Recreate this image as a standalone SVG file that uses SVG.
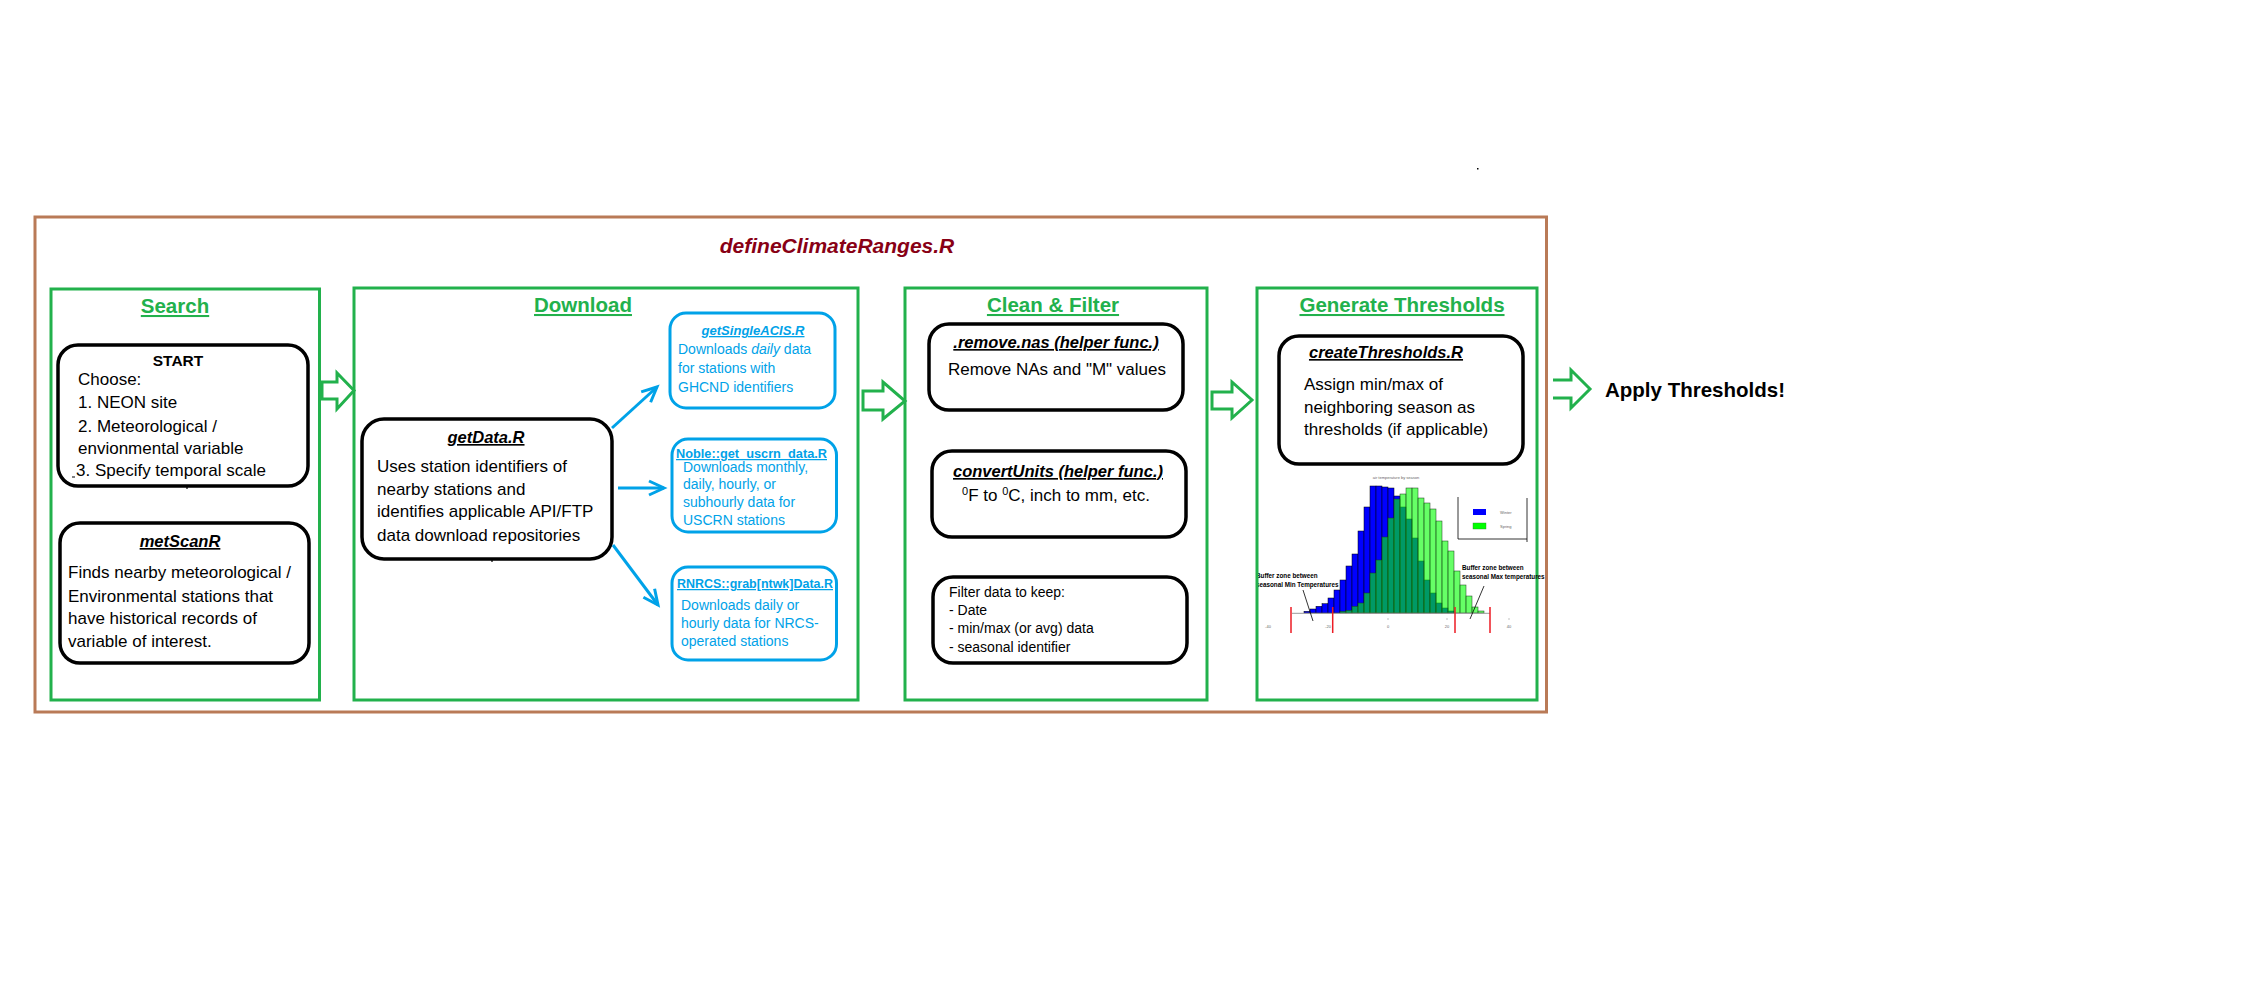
<svg xmlns="http://www.w3.org/2000/svg" width="2246" height="992" viewBox="0 0 2246 992">
<style>
text{font-family:"Liberation Sans",Arial,sans-serif;}
.sec{fill:#fff;stroke:#22B14C;stroke-width:3;}
.sect{font-size:20.5px;font-weight:bold;fill:#22B14C;text-anchor:middle;text-decoration:underline;}
.bx{fill:#fff;stroke:#000;stroke-width:3.5;}
.bbx{fill:#fff;stroke:#00A2E8;stroke-width:3;}
.bt{font-size:16.5px;font-weight:bold;font-style:italic;text-anchor:middle;text-decoration:underline;fill:#000;}
.body{font-size:17px;fill:#000;}
.small{font-size:14px;fill:#000;}
.blt{font-size:13px;font-weight:bold;font-style:italic;fill:#00A2E8;text-decoration:underline;}
.blt2{font-size:12.5px;font-weight:bold;fill:#00A2E8;text-decoration:underline;}
.blb{font-size:14px;fill:#00A2E8;}
.hollow{fill:#fff;stroke:#22B14C;stroke-width:3;}
.conn{stroke:#00A2E8;stroke-width:3;fill:none;}
.blue{fill:#0000FF;stroke:#000;stroke-width:0.5;}
.grn{fill:#00FF00;fill-opacity:0.6;stroke:#1a3a1a;stroke-width:0.5;}
.tiny{font-size:4px;fill:#666;}
.ann{font-size:6.3px;font-weight:bold;fill:#000;}
</style>
<defs>
<marker id="ah" markerUnits="userSpaceOnUse" markerWidth="20" markerHeight="18" refX="16" refY="8" orient="auto" viewBox="0 0 20 16">
<path d="M1,1 L16,8 L1,15" fill="none" stroke="#00A2E8" stroke-width="3"/>
</marker>
</defs>

<g id="outer">
<rect x="35" y="217" width="1511.5" height="495" fill="none" stroke="#B97A57" stroke-width="3"/>
<text x="837" y="253" text-anchor="middle" font-size="21" font-weight="bold" font-style="italic" fill="#880015">defineClimateRanges.R</text>
<rect x="1477" y="168" width="1.5" height="1.5" fill="#000"/>
</g>

<g id="search">
<rect class="sec" x="51" y="289" width="268.5" height="411"/>
<text class="sect" x="175" y="313">Search</text>
</g>

<g id="start">
<rect class="bx" x="58" y="345" width="250" height="141" rx="20"/>
<text x="178" y="366" text-anchor="middle" font-size="15.5" font-weight="bold">START</text>
<text class="body" x="78" y="385">Choose:</text>
<text class="body" x="78" y="408">1. NEON site</text>
<text class="body" x="78" y="432">2. Meteorological /</text>
<text class="body" x="78" y="454">envionmental variable</text>
<text class="body" x="76" y="476">3. Specify temporal scale</text>
<path d="M72,477 h3 M187,486 v3" stroke="#000" stroke-width="1.2"/>
</g>

<g id="metscanr">
<rect class="bx" x="60" y="523" width="249" height="140" rx="20"/>
<text class="bt" x="180" y="547">metScanR</text>
<text class="body" x="68" y="578">Finds nearby meteorological /</text>
<text class="body" x="68" y="602">Environmental stations that</text>
<text class="body" x="68" y="624">have historical records of</text>
<text class="body" x="68" y="647">variable of interest.</text>
</g>

<g id="download">
<rect class="sec" x="354" y="288" width="504" height="412"/>
<text class="sect" x="583" y="312">Download</text>
</g>

<g id="getdata">
<rect class="bx" x="362" y="419" width="250" height="140" rx="22"/>
<text class="bt" x="486" y="443" font-size="17.4">getData.R</text>
<text class="body" x="377" y="472">Uses station identifiers of</text>
<text class="body" x="377" y="495">nearby stations and</text>
<text class="body" x="377" y="517">identifies applicable API/FTP</text>
<text class="body" x="377" y="541">data download repositories</text>
<path d="M492,559 v3" stroke="#000" stroke-width="1.2"/>
</g>

<g id="getsingleacis">
<rect class="bbx" x="670" y="313" width="165" height="95" rx="16"/>
<text class="blt" x="753" y="335" text-anchor="middle" textLength="103" lengthAdjust="spacingAndGlyphs">getSingleACIS.R</text>
<text class="blb" x="678" y="354" font-size="14.5">Downloads <tspan font-style="italic">daily</tspan> data</text>
<text class="blb" x="678" y="373" font-size="14.5">for stations with</text>
<text class="blb" x="678" y="392" font-size="14.5">GHCND identifiers</text>
</g>

<g id="noble">
<rect class="bbx" x="672" y="439" width="164.5" height="93" rx="16"/>
<text class="blt2" x="676" y="458" textLength="151" lengthAdjust="spacingAndGlyphs">Noble::get_uscrn_data.R</text>
<text class="blb" x="683" y="472">Downloads monthly,</text>
<text class="blb" x="683" y="489">daily, hourly, or</text>
<text class="blb" x="683" y="507">subhourly data for</text>
<text class="blb" x="683" y="525">USCRN stations</text>
</g>

<g id="rnrcs">
<rect class="bbx" x="672" y="567" width="164.5" height="93" rx="16"/>
<text class="blt2" x="677" y="588" textLength="156" lengthAdjust="spacingAndGlyphs">RNRCS::grab[ntwk]Data.R</text>
<text class="blb" x="681" y="610">Downloads daily or</text>
<text class="blb" x="681" y="628">hourly data for NRCS-</text>
<text class="blb" x="681" y="646">operated stations</text>
</g>

<g id="clean">
<rect class="sec" x="905" y="288" width="302" height="412"/>
<text class="sect" x="1053" y="312">Clean &amp; Filter</text>
</g>

<g id="removenas">
<rect class="bx" x="929" y="324" width="254" height="86" rx="20"/>
<text class="bt" x="1056" y="348">.remove.nas (helper func.)</text>
<text class="body" x="1057" y="375" text-anchor="middle">Remove NAs and "M" values</text>
</g>

<g id="convertunits">
<rect class="bx" x="932" y="451" width="254" height="86" rx="20"/>
<text class="bt" x="1058" y="477">convertUnits (helper func.)</text>
<text class="body" x="962" y="501"><tspan font-size="11" baseline-shift="super">0</tspan>F to <tspan font-size="11" baseline-shift="super">0</tspan>C, inch to mm, etc.</text>
</g>

<g id="filter">
<rect class="bx" x="933" y="577" width="254" height="86" rx="20"/>
<text class="small" x="949" y="597">Filter data to keep:</text>
<text class="small" x="949" y="615">- Date</text>
<text class="small" x="949" y="633">- min/max (or avg) data</text>
<text class="small" x="949" y="652">- seasonal identifier</text>
</g>

<g id="generate">
<rect x="1257" y="288" width="280" height="412" fill="#fff"/>
<text class="ann" x="1256" y="578">Buffer zone between</text>
<text class="ann" x="1256" y="587">seasonal Min Temperatures</text>
<rect x="1257" y="288" width="280" height="412" class="sec" fill="none" style="fill:none"/>
<text class="sect" x="1402" y="312">Generate Thresholds</text>
</g>

<g id="createthresholds">
<rect class="bx" x="1279" y="336" width="244" height="128" rx="20"/>
<text class="bt" x="1386" y="358">createThresholds.R</text>
<text class="body" x="1304" y="390">Assign min/max of</text>
<text class="body" x="1304" y="413">neighboring season as</text>
<text class="body" x="1304" y="435">thresholds (if applicable)</text>
</g>

<g id="chart">
<text class="tiny" x="1396" y="479" text-anchor="middle">air temperature by season</text>
<g id="winter">
<rect class="blue" x="1304" y="611.3" width="6" height="1.7"/>
<rect class="blue" x="1310" y="609" width="6" height="4"/>
<rect class="blue" x="1316" y="606.3" width="6" height="6.7"/>
<rect class="blue" x="1322" y="603.7" width="6" height="9.3"/>
<rect class="blue" x="1328" y="598" width="6" height="15"/>
<rect class="blue" x="1334" y="590" width="6" height="23"/>
<rect class="blue" x="1340" y="580" width="6" height="33"/>
<rect class="blue" x="1346" y="566" width="6" height="47"/>
<rect class="blue" x="1352" y="554" width="6" height="59"/>
<rect class="blue" x="1358" y="531" width="6" height="82"/>
<rect class="blue" x="1364" y="507" width="6" height="106"/>
<rect class="blue" x="1370" y="486" width="6" height="127"/>
<rect class="blue" x="1376" y="486" width="6" height="127"/>
<rect class="blue" x="1382" y="487" width="6" height="126"/>
<rect class="blue" x="1388" y="488" width="6" height="125"/>
<rect class="blue" x="1394" y="496" width="6" height="117"/>
<rect class="blue" x="1400" y="507" width="6" height="106"/>
<rect class="blue" x="1406" y="519" width="6" height="94"/>
<rect class="blue" x="1412" y="538" width="6" height="75"/>
<rect class="blue" x="1418" y="561" width="6" height="52"/>
<rect class="blue" x="1424" y="580" width="6" height="33"/>
<rect class="blue" x="1430" y="593" width="6" height="20"/>
<rect class="blue" x="1436" y="603" width="6" height="10"/>
<rect class="blue" x="1442" y="608" width="6" height="5"/>
<rect class="blue" x="1448" y="611" width="6" height="2"/>
</g>
<g id="spring">
<rect class="grn" x="1340" y="611.3" width="6" height="1.7"/>
<rect class="grn" x="1346" y="610.3" width="6" height="2.7"/>
<rect class="grn" x="1352" y="606.3" width="6" height="6.7"/>
<rect class="grn" x="1358" y="603" width="6" height="10"/>
<rect class="grn" x="1364" y="593" width="6" height="20"/>
<rect class="grn" x="1370" y="573" width="6" height="40"/>
<rect class="grn" x="1376" y="560" width="6" height="53"/>
<rect class="grn" x="1382" y="537" width="6" height="76"/>
<rect class="grn" x="1388" y="518" width="6" height="95"/>
<rect class="grn" x="1394" y="499" width="6" height="114"/>
<rect class="grn" x="1400" y="494" width="6" height="119"/>
<rect class="grn" x="1406" y="488" width="6" height="125"/>
<rect class="grn" x="1412" y="488" width="6" height="125"/>
<rect class="grn" x="1418" y="498" width="6" height="115"/>
<rect class="grn" x="1424" y="503" width="6" height="110"/>
<rect class="grn" x="1430" y="509" width="6" height="104"/>
<rect class="grn" x="1436" y="521" width="6" height="92"/>
<rect class="grn" x="1442" y="541" width="6" height="72"/>
<rect class="grn" x="1448" y="551" width="6" height="62"/>
<rect class="grn" x="1454" y="571" width="6" height="42"/>
<rect class="grn" x="1460" y="585" width="6" height="28"/>
<rect class="grn" x="1466" y="596" width="6" height="17"/>
<rect class="grn" x="1472" y="607" width="6" height="6"/>
<rect class="grn" x="1478" y="611" width="6" height="2"/>
</g>
<path d="M1292,613.3 H1490" stroke="#999" stroke-width="1"/>
<path d="M1388,618 v2 M1447,618 v2 M1509,618 v2" stroke="#999" stroke-width="0.6"/>
<path d="M1291,607 V633 M1332.7,607 V633 M1455,607 V633 M1490,607 V633" stroke="#ED1C24" stroke-width="1.5"/>
<text class="tiny" x="1268" y="628" text-anchor="middle">-40</text>
<text class="tiny" x="1328" y="628" text-anchor="middle">-20</text>
<text class="tiny" x="1388" y="628" text-anchor="middle">0</text>
<text class="tiny" x="1447" y="628" text-anchor="middle">20</text>
<text class="tiny" x="1509" y="628" text-anchor="middle">40</text>
<path d="M1458,497 V539 H1527 M1527,498 V542" stroke="#000" stroke-width="0.8" fill="none"/>
<rect x="1473" y="509" width="13" height="6" fill="#0000FF"/>
<rect x="1473" y="523" width="13" height="6" fill="#00FF00" stroke="#2a8a2a" stroke-width="0.4"/>
<text class="tiny" x="1500" y="514" font-size="3.5">Winter</text>
<text class="tiny" x="1500" y="528" font-size="3.5">Spring</text>
<path d="M1303,590 L1313,621" stroke="#000" stroke-width="0.8"/>
<path d="M1484,586 L1470,619" stroke="#000" stroke-width="0.8"/>
<text class="ann" x="1462" y="570">Buffer zone between</text>
<text class="ann" x="1462" y="579">seasonal Max temperatures</text>
</g>

<g id="apply">
<text x="1605" y="397" font-size="20.5" font-weight="bold" fill="#000">Apply Thresholds!</text>
</g>

<g id="connectors">
<polygon class="hollow" points="322,382 337,382 337,373 354,390.5 337,409 337,399 322,399"/>
<polygon class="hollow" points="863,391 883,391 883,382 905,401 883,419 883,410 863,410"/>
<polygon class="hollow" points="1212,392 1232,392 1232,382 1252,400 1232,418 1232,409 1212,409"/>
<polyline points="1553,380 1571,380 1571,370 1590,389 1571,408 1571,398 1553,398" fill="none" stroke="#22B14C" stroke-width="3"/>
<line class="conn" x1="612" y1="428" x2="657" y2="387" marker-end="url(#ah)"/>
<line class="conn" x1="618" y1="488" x2="664" y2="488" marker-end="url(#ah)"/>
<line class="conn" x1="613" y1="545" x2="658" y2="605" marker-end="url(#ah)"/>
</g>
</svg>
